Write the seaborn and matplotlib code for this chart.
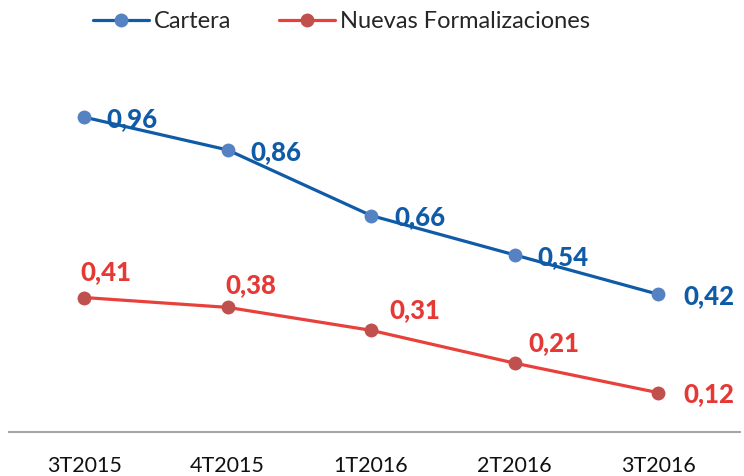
import numpy as np
import pandas as pd
import seaborn as sns
import matplotlib.pyplot as plt

# Data
periodos = ['3T2015', '4T2015', '1T2016', '2T2016', '3T2016']
cartera = [0.96, 0.86, 0.66, 0.54, 0.42]
nuevas = [0.41, 0.38, 0.31, 0.21, 0.12]

df = pd.DataFrame({
    'periodo': periodos * 2,
    'x': list(range(len(periodos))) * 2,
    'valor': cartera + nuevas,
    'serie': ['Cartera'] * len(periodos) + ['Nuevas Formalizaciones'] * len(periodos),
})

line_colors = {'Cartera': '#0F5BA7', 'Nuevas Formalizaciones': '#E8403A'}
marker_colors = {'Cartera': '#5582C2', 'Nuevas Formalizaciones': '#C0504D'}

sns.set_style('white')
plt.rcParams['font.family'] = ['Lato', 'DejaVu Sans']

fig = plt.figure(figsize=(7.44, 4.76), dpi=100)
ax = fig.add_axes([9 / 744, 44 / 476, 731 / 744, 393.6 / 476])

sns.lineplot(data=df, x='x', y='valor', hue='serie', palette=line_colors,
             linewidth=2.3, marker='o', markersize=10, markeredgewidth=0,
             ax=ax, legend=False)

handles = []
for line, name in zip(ax.get_lines(), ['Cartera', 'Nuevas Formalizaciones']):
    line.set_markerfacecolor(marker_colors[name])
    line.set_markeredgecolor(marker_colors[name])
    handles.append(line)

# value labels (offsets in pixels)
blue_off = [(22, -2), (23, -2), (23, -2), (23, -2), (25, -2)]
red_off = [(22, 25), (23, 22), (44, 20), (39, 20), (25, -1)]
for i, v in enumerate(cartera):
    ax.annotate(f'{v:.2f}'.replace('.', ','), (i, v), xytext=blue_off[i],
                textcoords='offset pixels', ha='left', va='center',
                color='#0F5BA7', fontsize=18.5, fontweight=900)
for i, v in enumerate(nuevas):
    ha = 'left' if i == len(nuevas) - 1 else 'center'
    ax.annotate(f'{v:.2f}'.replace('.', ','), (i, v), xytext=red_off[i],
                textcoords='offset pixels', ha=ha, va='center',
                color='#E53935', fontsize=18.5, fontweight=900)

ax.set_xlim(-0.523, 4.571)
ax.set_ylim(0, 1.2)
ax.set_xticks(range(len(periodos)))
ax.set_xticklabels(periodos, fontsize=15.5)
ax.tick_params(axis='x', length=0, pad=17, colors='#111111')
ax.set_yticks([])
ax.set_xlabel('')
ax.set_ylabel('')
for side in ['top', 'right', 'left']:
    ax.spines[side].set_visible(False)
ax.spines['bottom'].set_color('#A6A6A6')
ax.spines['bottom'].set_linewidth(1.5)

fig.legend(handles, ['Cartera', 'Nuevas Formalizaciones'], loc='center',
           bbox_to_anchor=(0.459, 1 - 22 / 476), ncol=2, frameon=False,
           fontsize=17, handlelength=2.4, handletextpad=0.2, columnspacing=2.0)

fig.savefig('out.png', dpi=100)
